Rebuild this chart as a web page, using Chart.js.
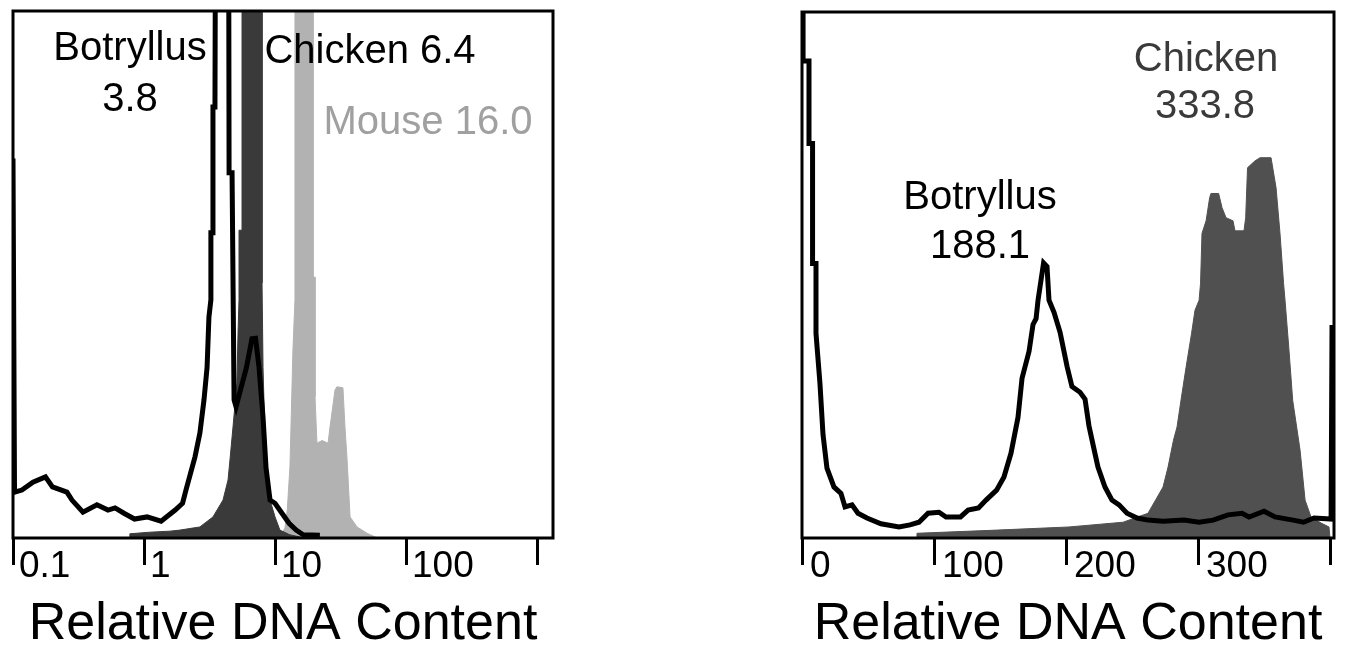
<!DOCTYPE html>
<html><head><meta charset="utf-8">
<script src="https://cdn.jsdelivr.net/npm/chart.js@4.4.1/dist/chart.umd.min.js"></script>
<style>
html,body{margin:0;padding:0;background:#fff;width:1346px;height:656px;overflow:hidden;}
.panel{position:absolute;top:0;height:656px;}
#leftWrap{left:0;width:600px;}
#rightWrap{left:760px;width:586px;}
</style></head><body>
<div id="leftWrap" class="panel"><canvas id="leftChart"></canvas></div>
<div id="rightWrap" class="panel"><canvas id="rightChart"></canvas></div>
<script>
// ---------- Tick values / labels ----------
const leftTickValues = [0.1, 1, 10, 100, 1000];
const leftTickLabels = ['0.1', '1', '10', '100', ''];
const rightTickValues = [0, 100, 200, 300, 400];
const rightTickLabels = ['0', '100', '200', '300', ''];
const axisTitle = 'Relative DNA Content';

// ---------- Left panel (log scale) ----------
const leftBotryllusX = [0.1, 0.1027, 0.117, 0.142, 0.177, 0.2, 0.258, 0.282, 0.342, 0.437, 0.531, 0.601, 0.703, 0.846, 1.055, 1.35, 1.73, 1.97, 2.09, 2.45, 2.67, 2.87, 3.03, 3.13, 3.24, 3.24, 3.36, 3.36, 3.48, 3.55, 4.4, 4.46, 4.7, 4.87, 5.04, 6.06, 6.67, 7.1, 7.55, 8.1, 8.54, 9.16, 10.0, 11.3, 12.8, 14.5, 16.4, 22];
const leftBotryllusY = [72, 8.7, 9.1, 10.6, 11.6, 9.7, 8.7, 7.2, 4.9, 6.3, 5.3, 5.7, 4.7, 3.6, 4.0, 3.2, 5.3, 6.6, 9.1, 15.4, 19.9, 26.2, 32.4, 41.9, 45.2, 57.9, 57.9, 81.8, 81.8, 160, 160, 69.3, 69.3, 26.2, 24.9, 32.4, 37.8, 37.9, 32.4, 22.9, 13.3, 7.2, 6.6, 4.7, 2.8, 1.5, 0.6, 0.5];

const leftChickenX = [0.77, 0.78, 1.11, 1.58, 1.88, 2.67, 3.36, 4.01, 4.38, 4.53, 4.78, 5.12, 5.22, 5.31, 5.31, 5.60, 5.60, 7.96, 7.96, 8.10, 8.39, 8.69, 9.16, 10.0, 10.9, 13.0, 15.5, 16];
const leftChickenY = [0, 0.8, 1.1, 1.3, 1.5, 2.1, 4.0, 7.2, 11.0, 14.8, 21.1, 29.4, 38.9, 45.2, 58.4, 58.4, 180, 180, 48.4, 32.4, 18.6, 11.0, 7.2, 4.0, 1.5, 0.6, 0.2, 0];

const leftMouseX = [10.5, 10.9, 11.9, 12.4, 13.0, 13.7, 14.2, 14.2, 19.5, 19.5, 20.2, 20.2, 20.9, 22.9, 25.4, 26.3, 28.7, 29.7, 33.0, 34.2, 35.5, 37.4, 42.3, 50.4, 58.0, 60];
const leftMouseY = [0, 0.2, 1.9, 5.3, 13.5, 35.7, 45.2, 180, 180, 49.5, 49.5, 26.8, 18.0, 18.5, 18.0, 21.1, 28.1, 28.7, 28.5, 21.1, 14.8, 4.0, 2.1, 0.9, 0.2, 0];

// ---------- Right panel (linear scale) ----------
const rightBotryllusX = [0, 0.8, 0.8, 5.3, 5.3, 8.0, 8.0, 10.6, 10.6, 13.6, 15.9, 18.9, 24.2, 29.5, 32.6, 37.9, 42.4, 49.2, 59.8, 73.5, 81.8, 88.6, 95.5, 103.8, 109.1, 120.1, 125.8, 133.7, 139.4, 147.4, 153.0, 158.3, 163.6, 166.7, 172.0, 175.0, 177.3, 178.8, 183.0, 185.6, 187.1, 190.9, 195.5, 200.8, 204.5, 210.6, 214.4, 217.4, 221.2, 224.2, 229.5, 234.8, 240.2, 246.2, 253.8, 262.1, 273.5, 289.4, 300.8, 311.4, 322.7, 333.3, 338.6, 350.0, 358.3, 372.0, 379.9, 387.9, 400.8, 401.5, 403];
const rightBotryllusY = [150, 150, 90.7, 90.7, 75.0, 75.0, 52.2, 52.2, 38.9, 29.4, 19.7, 13.3, 9.7, 8.5, 5.9, 6.3, 4.7, 3.8, 2.7, 2.1, 2.5, 3.0, 4.7, 4.9, 4.0, 4.0, 5.3, 5.7, 7.2, 9.1, 11.6, 16.1, 22.9, 30.4, 35.5, 40.6, 41.7, 45.2, 52.3, 51.6, 45.2, 42.9, 39.1, 32.6, 28.8, 27.7, 26.4, 21.3, 16.9, 13.5, 9.7, 7.2, 6.3, 4.7, 3.8, 3.4, 3.2, 3.4, 3.0, 3.4, 4.4, 4.7, 4.0, 5.1, 4.0, 3.4, 3.0, 3.8, 3.6, 40.0, 40.0];

const rightChickenX = [87, 87.1, 147.4, 202.3, 243.2, 262.1, 267.8, 273.5, 277.3, 281.4, 284.1, 287.1, 290.9, 295.1, 297.7, 300.8, 301.9, 303.0, 306.1, 308.8, 309.8, 315.6, 318.2, 321.2, 326.5, 328.0, 334.8, 336.1, 337.5, 343.2, 347.0, 355.3, 359.1, 362.1, 364.8, 365.9, 368.9, 371.7, 377.3, 381.1, 385.6, 393.6, 399.2, 400];
const rightChickenY = [0, 0.9, 1.5, 2.1, 3.0, 4.7, 7.2, 9.7, 13.5, 18.6, 21.1, 26.2, 32.4, 38.9, 43.3, 45.2, 48.4, 57.9, 60.3, 64.7, 65.5, 65.5, 62.8, 60.9, 60.3, 58.4, 58.4, 60.9, 70.4, 71.7, 72.3, 72.3, 66.6, 57.9, 48.4, 45.2, 35.7, 26.2, 16.7, 7.2, 4.0, 2.8, 2.1, 0];

// ---------- helpers ----------
const zip = (xs, ys) => xs.map((x, i) => ({x: x, y: ys[i]}));
const FONT = '"Liberation Sans", Arial, Helvetica, sans-serif';

const boxPlugin = {
  id: 'frameBox',
  afterDatasetsDraw(chart) {
    const {ctx, chartArea: a} = chart;
    ctx.save();
    ctx.strokeStyle = '#000';
    ctx.lineWidth = 3;
    ctx.strokeRect(a.left, a.top, a.right - a.left, a.bottom - a.top);
    ctx.restore();
  }
};
const notesPlugin = {
  id: 'notes',
  afterDraw(chart, args, opts) {
    const ctx = chart.ctx;
    (opts.items || []).forEach(it => {
      ctx.save();
      ctx.font = (it.size || 40) + 'px ' + FONT;
      ctx.fillStyle = it.color || '#000';
      ctx.textAlign = 'center';
      ctx.textBaseline = 'alphabetic';
      ctx.fillText(it.text, it.x, it.y);
      ctx.restore();
    });
  }
};

function makeChart(id, cfg) {
  return new Chart(document.getElementById(id), {
    type: 'line',
    data: { datasets: cfg.datasets },
    options: {
      responsive: true,
      maintainAspectRatio: false,
      animation: false,
      devicePixelRatio: 1,
      layout: { padding: cfg.padding },
      elements: { point: { radius: 0 }, line: { tension: 0, borderJoinStyle: 'miter' } },
      plugins: {
        legend: { display: false },
        tooltip: { enabled: false },
        notes: { items: cfg.notes }
      },
      scales: {
        x: {
          type: cfg.type,
          min: cfg.min,
          max: cfg.max,
          afterBuildTicks: s => { s.ticks = cfg.tickValues.map(v => ({value: v})); },
          afterFit: s => { s.height = 118; },
          border: { display: false },
          grid: { display: true, drawOnChartArea: false, drawTicks: true, tickLength: 27, tickWidth: 3, tickColor: '#000', color: '#000' },
          ticks: {
            autoSkip: false, maxRotation: 0, minRotation: 0,
            align: 'start', labelOffset: cfg.labelOffset, padding: -20,
            color: '#000', font: { family: FONT, size: 37 },
            callback: (v, i) => cfg.tickLabels[i]
          },
          title: { display: true, text: axisTitle, color: '#000', font: { family: FONT, size: 52 }, padding: { top: 0, bottom: 0 } }
        },
        y: { display: false, min: 0, max: 100 }
      }
    },
    plugins: [boxPlugin, notesPlugin]
  });
}

makeChart('leftChart', {
  type: 'logarithmic', min: 0.1, max: 1324,
  tickValues: leftTickValues, tickLabels: leftTickLabels, labelOffset: 6,
  padding: { left: 13, top: 11, right: 47, bottom: 0 },
  datasets: [
    { label: 'Botryllus', data: zip(leftBotryllusX, leftBotryllusY), borderColor: '#000', borderWidth: 5, fill: false },
    { label: 'Chicken', data: zip(leftChickenX, leftChickenY), borderColor: '#3a3a3a', borderWidth: 1, backgroundColor: '#3a3a3a', fill: 'origin' },
    { label: 'Mouse', data: zip(leftMouseX, leftMouseY), borderColor: '#b2b2b2', borderWidth: 1, backgroundColor: '#b2b2b2', fill: 'origin' }
  ],
  notes: [
    { text: 'Botryllus', x: 130, y: 60 },
    { text: '3.8', x: 130, y: 111 },
    { text: 'Chicken 6.4', x: 370, y: 63 },
    { text: 'Mouse 16.0', x: 428, y: 134, color: '#a0a0a0' }
  ]
});

makeChart('rightChart', {
  type: 'linear', min: 0, max: 403,
  tickValues: rightTickValues, tickLabels: rightTickLabels, labelOffset: 8,
  padding: { left: 42, top: 12, right: 12, bottom: 0 },
  datasets: [
    { label: 'Botryllus', data: zip(rightBotryllusX, rightBotryllusY), borderColor: '#000', borderWidth: 5, fill: false },
    { label: 'Chicken', data: zip(rightChickenX, rightChickenY), borderColor: '#505050', borderWidth: 1, backgroundColor: '#505050', fill: 'origin' }
  ],
  notes: [
    { text: 'Chicken', x: 1206 - 760, y: 71, color: '#3a3a3a' },
    { text: '333.8', x: 1205 - 760, y: 118, color: '#3a3a3a' },
    { text: 'Botryllus', x: 980 - 760, y: 209 },
    { text: '188.1', x: 980 - 760, y: 258 }
  ]
});
</script>
</body></html>
